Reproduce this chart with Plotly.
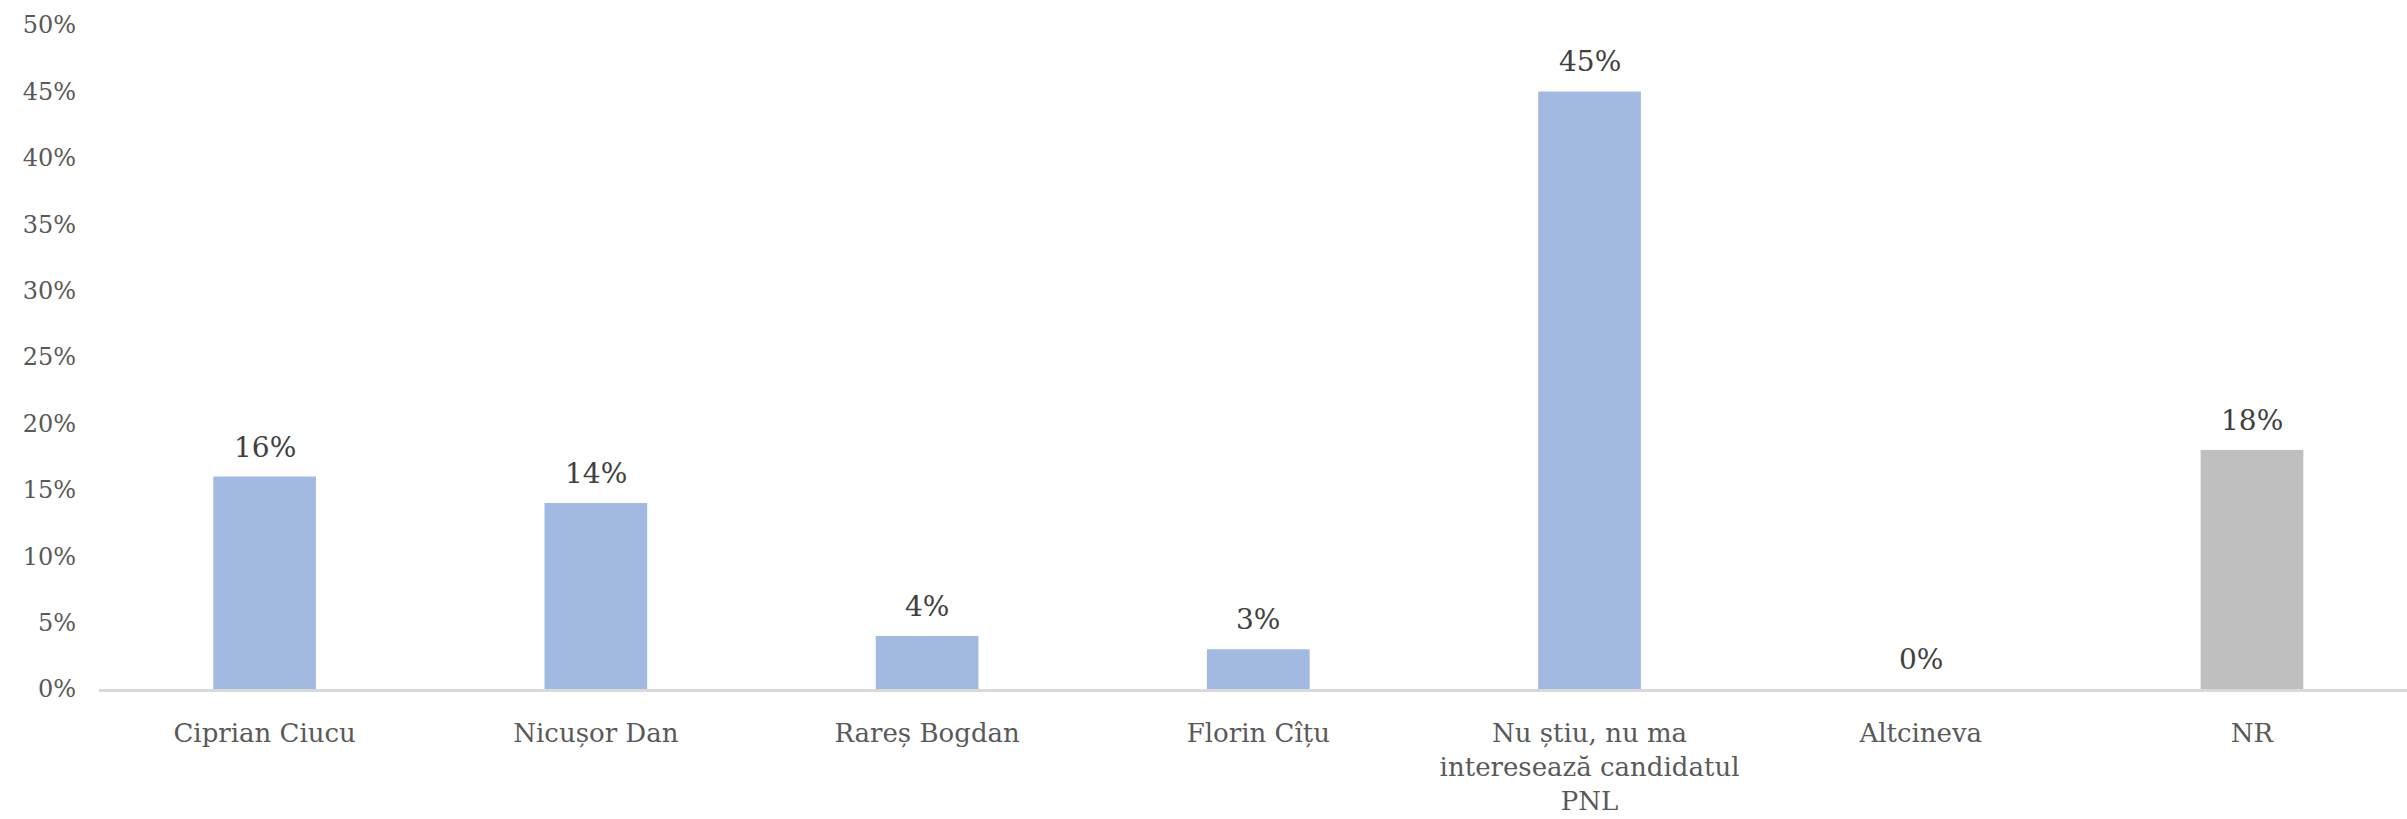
import plotly.graph_objects as go

categories = ["Ciprian Ciucu", "Nicușor Dan", "Rareș Bogdan", "Florin Cîțu",
              "Nu știu, nu ma<br>interesează candidatul<br>PNL", "Altcineva", "NR"]
values = [0.16, 0.14, 0.04, 0.03, 0.45, 0.00, 0.18]
bar_colors = ["#A2B9E1", "#A2B9E1", "#A2B9E1", "#A2B9E1", "#A2B9E1", "#A2B9E1", "#BFBFBF"]
y_ticks = [0, 0.05, 0.10, 0.15, 0.20, 0.25, 0.30, 0.35, 0.40, 0.45, 0.50]

FONT = "DejaVu Serif"

fig = go.Figure()
fig.add_trace(go.Bar(
    x=categories, y=values, marker=dict(color=bar_colors, line=dict(width=0)),
    width=0.31, hoverinfo="skip",
))

for c, v in zip(categories, values):
    fig.add_annotation(x=c, y=v, text=f"{round(v*100)}%", showarrow=False,
                       yanchor="bottom", yshift=11,
                       font=dict(family=FONT, size=28, color="#404040"))

fig.update_layout(
    width=2407, height=819,
    margin=dict(l=99, r=0, t=25, b=130),
    paper_bgcolor="white", plot_bgcolor="white",
    showlegend=False,
    font=dict(family=FONT, size=25, color="#595959"),
    xaxis=dict(
        range=[-0.5, 6.468], showgrid=False, zeroline=False,
        showline=True, linecolor="#D9D9D9", linewidth=3,
        ticks="", ticklabelstandoff=19, automargin=False,
        tickfont=dict(family=FONT, size=26, color="#595959"),
    ),
    yaxis=dict(
        range=[0, 0.5], tickvals=y_ticks, tickformat=".0%",
        showgrid=False, zeroline=False, showline=False,
        ticks="", ticklabelstandoff=22, automargin=False,
        tickfont=dict(family=FONT, size=24, color="#595959"),
    ),
)

fig.write_html(
    "out.html",
    config={"displayModeBar": False},
    post_script="document.body.style.margin='0';document.body.style.overflow='hidden';",
)
